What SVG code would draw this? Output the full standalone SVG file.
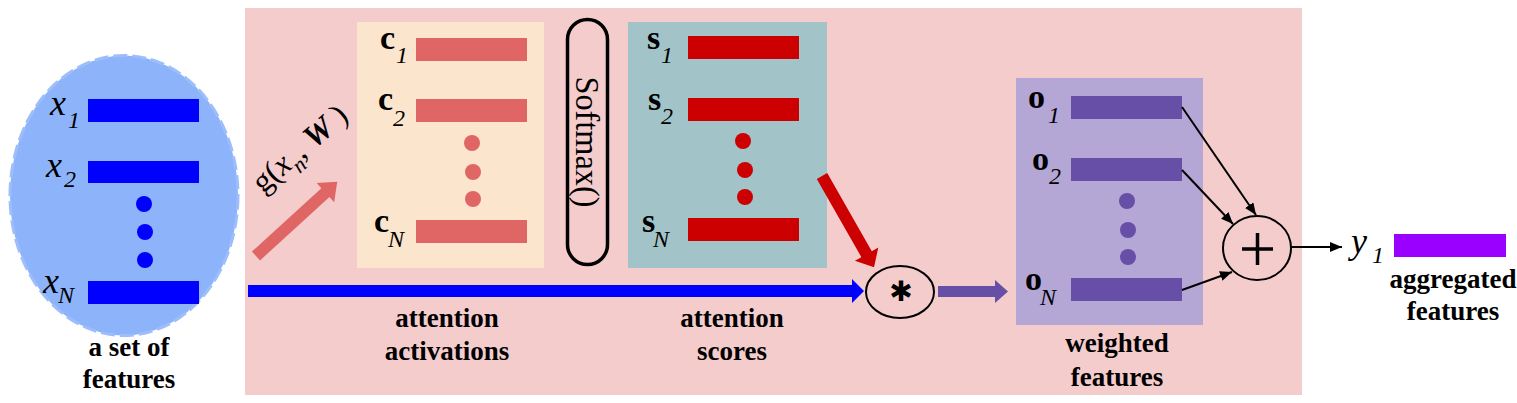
<svg xmlns="http://www.w3.org/2000/svg" width="1517" height="403" viewBox="0 0 1517 403">
<style>
text{font-family:'Liberation Serif','Times New Roman',serif;fill:#000}
.lbl{font-weight:700;font-size:27px;text-anchor:middle}
.bv{font-weight:700;font-size:34px}
.it{font-style:italic;font-size:36px}
.sub{font-style:italic;font-size:24px}
.thin{stroke:#000;stroke-width:2;fill:none}
</style>
<defs>
<marker id="ah" markerUnits="userSpaceOnUse" markerWidth="13" markerHeight="11" refX="12" refY="5" orient="auto">
<path d="M0,0 L12,5 L0,10 z" fill="#000"/>
</marker>
</defs>
<rect id="background" x="245" y="8" width="1057" height="387" fill="#f4cccc"/>

<g id="input-features">
<ellipse cx="124" cy="195.5" rx="114" ry="140" fill="#8db4fa" stroke="#9dbefb" stroke-width="3" stroke-dasharray="14 5"/>
<rect x="88" y="99" width="111" height="23" fill="#0000ff"/>
<rect x="88" y="161" width="111" height="22" fill="#0000ff"/>
<rect x="88" y="281" width="111" height="23" fill="#0000ff"/>
<circle cx="144" cy="204" r="8" fill="#0000ff"/>
<circle cx="145" cy="232" r="8" fill="#0000ff"/>
<circle cx="145" cy="260" r="8" fill="#0000ff"/>
<text class="it" x="50" y="115">x</text><text class="sub" x="68" y="128">1</text>
<text class="it" x="46" y="177">x</text><text class="sub" x="64" y="187">2</text>
<text class="it" x="43" y="293">x</text><text class="sub" x="58" y="303">N</text>
<text class="lbl" x="129" y="356">a set of</text>
<text class="lbl" x="129" y="388">features</text>
</g>

<g id="attention-activations">
<rect x="357" y="22" width="187" height="246" fill="#fce5cd"/>
<rect x="416" y="38" width="111" height="23" fill="#e06666"/>
<rect x="416" y="99" width="111" height="23" fill="#e06666"/>
<rect x="416" y="220" width="111" height="23" fill="#e06666"/>
<circle cx="472" cy="143" r="8" fill="#e06666"/>
<circle cx="473" cy="172" r="8" fill="#e06666"/>
<circle cx="473" cy="199" r="8" fill="#e06666"/>
<text class="bv" x="380" y="49">c</text><text class="sub" x="396" y="63">1</text>
<text class="bv" x="378" y="110">c</text><text class="sub" x="393" y="126">2</text>
<text class="bv" x="374" y="232">c</text><text class="sub" x="388" y="247">N</text>
<text class="lbl" x="447" y="327">attention</text>
<text class="lbl" x="447" y="360">activations</text>
</g>

<g id="softmax">
<rect x="567.5" y="19.5" width="40" height="245" rx="20" ry="20" fill="none" stroke="#000" stroke-width="3.5"/>
<text transform="translate(576,142) rotate(90)" x="0" y="0" text-anchor="middle" font-size="34" textLength="131" lengthAdjust="spacingAndGlyphs">Softmax()</text>
</g>

<g id="attention-scores">
<rect x="628" y="22" width="199" height="246" fill="#a2c4c9"/>
<rect x="688" y="36" width="111" height="23" fill="#cc0000"/>
<rect x="688" y="98" width="111" height="23" fill="#cc0000"/>
<rect x="688" y="218" width="111" height="23" fill="#cc0000"/>
<circle cx="743" cy="141" r="8" fill="#cc0000"/>
<circle cx="745" cy="170" r="8" fill="#cc0000"/>
<circle cx="745" cy="197" r="8" fill="#cc0000"/>
<text class="bv" x="647" y="49">s</text><text class="sub" x="661" y="63">1</text>
<text class="bv" x="648" y="110">s</text><text class="sub" x="661" y="124">2</text>
<text class="bv" x="642" y="232">s</text><text class="sub" x="653" y="247">N</text>
<text class="lbl" x="732" y="327">attention</text>
<text class="lbl" x="732" y="360">scores</text>
</g>

<g id="multiply">
<ellipse cx="900" cy="292" rx="34" ry="26" fill="none" stroke="#000" stroke-width="2"/>
<text x="901" y="301" text-anchor="middle" style="font-family:'DejaVu Sans',sans-serif;font-weight:bold" font-size="28">✱</text>
</g>

<g id="weighted-features">
<rect x="1016" y="78" width="187" height="247" fill="#b4a7d6"/>
<rect x="1071" y="96" width="111" height="23" fill="#674ea7"/>
<rect x="1071" y="158" width="111" height="23" fill="#674ea7"/>
<rect x="1071" y="278" width="111" height="23" fill="#674ea7"/>
<circle cx="1127" cy="201" r="8" fill="#674ea7"/>
<circle cx="1128" cy="230" r="8" fill="#674ea7"/>
<circle cx="1128" cy="257" r="8" fill="#674ea7"/>
<text class="bv" x="1028" y="108">o</text><text class="sub" x="1048" y="123">1</text>
<text class="bv" x="1032" y="170">o</text><text class="sub" x="1049" y="184">2</text>
<text class="bv" x="1025" y="290">o</text><text class="sub" x="1040" y="305">N</text>
<text class="lbl" x="1117" y="352">weighted</text>
<text class="lbl" x="1117" y="386">features</text>
</g>

<g id="sum">
<ellipse cx="1257" cy="248" rx="34" ry="32" fill="none" stroke="#000" stroke-width="2"/>
<path d="M1242,249 H1273 M1257.5,233 V265" stroke="#000" stroke-width="3.5" fill="none"/>
</g>

<g id="output">
<text class="it" x="1351" y="253">y</text><text class="sub" x="1372" y="263">1</text>
<rect x="1394" y="234" width="112" height="23" fill="#9900ff"/>
<text class="lbl" x="1453" y="288">aggregated</text>
<text class="lbl" x="1453" y="320">features</text>
</g>

<g id="connectors">
<g id="g-arrow" transform="translate(256,256) rotate(-42.4)">
<polygon points="0,-6 94,-6 94,-13 110,0 94,13 94,6 0,6" fill="#e06666"/>
</g>
<text transform="translate(263,194) rotate(-41)" font-size="32">g(<tspan font-style="italic">x</tspan><tspan font-style="italic" font-size="22" dy="9">n</tspan><tspan dy="-9">, </tspan><tspan font-style="italic" font-weight="bold">W</tspan> )</text>
<polygon points="248,285 852,285 852,279 864,291 852,303 852,297 248,297" fill="#0000ff"/>
<g transform="translate(822,176) rotate(60.3)">
<polygon points="0,-6 90,-6 90,-13.5 105,0 90,13.5 90,6 0,6" fill="#cc0000"/>
</g>
<polygon points="938,286 995,286 995,280 1008,291.5 995,303 995,297 938,297" fill="#674ea7"/>
<line class="thin" x1="1182" y1="107" x2="1256" y2="215" marker-end="url(#ah)"/>
<line class="thin" x1="1182" y1="170" x2="1233" y2="224" marker-end="url(#ah)"/>
<line class="thin" x1="1182" y1="290" x2="1232" y2="272" marker-end="url(#ah)"/>
<line class="thin" x1="1291" y1="247" x2="1342" y2="247" marker-end="url(#ah)"/>
</g>
</svg>
